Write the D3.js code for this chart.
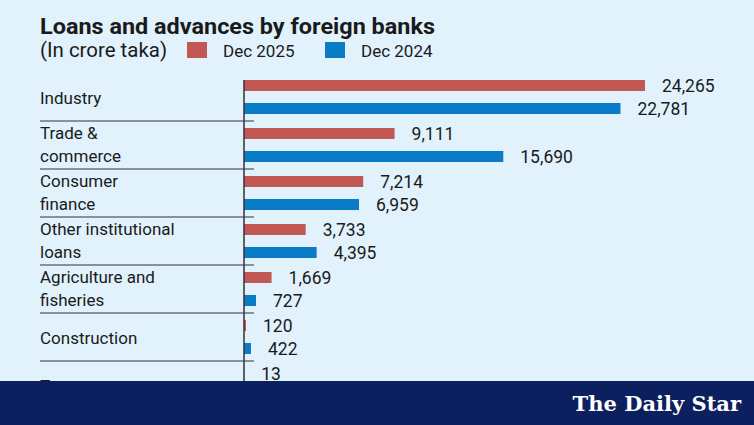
<!DOCTYPE html>
<html>
<head>
<meta charset="utf-8">
<script src="https://cdn.jsdelivr.net/npm/d3@7"></script>
<style>
  body { margin: 0; background: #e1f2fc; }
  svg { display: block; }
  text { font-family: Roboto, "Noto Sans", sans-serif; fill: #1a1a1a; }
</style>
</head>
<body>
<div id="chart"></div>
<script>
// chart data
let categories = [
    ['Industry'],
    ['Trade &', 'commerce'],
    ['Consumer', 'finance'],
    ['Other institutional', 'loans'],
    ['Agriculture and', 'fisheries'],
    ['Construction'],
    ['Transport']
];
let dec2025 = [24265, 9111, 7214, 3733, 1669, 120, 13];
let dec2024 = [22781, 15690, 6959, 4395, 727, 422, null];
let seriesNames = ['Dec 2025', 'Dec 2024'];
let seriesColors = ['#c25853', '#0a7bc5'];

let svgWidth = 754;
let svgHeight = 425;

let svg = d3.select('#chart')
            .append('svg')
            .attr('width', svgWidth)
            .attr('height', svgHeight);

svg.append('rect')
   .attr('width', svgWidth)
   .attr('height', svgHeight)
   .attr('fill', '#e1f2fc');

// title and legend
svg.append('text')
   .attr('x', 40).attr('y', 34)
   .style('font-size', '22.5px')
   .style('font-weight', 700)
   .attr('textLength', 395)
   .attr('lengthAdjust', 'spacingAndGlyphs')
   .text('Loans and advances by foreign banks');

svg.append('text')
   .attr('x', 40).attr('y', 57)
   .style('font-size', '19.5px')
   .style('font-weight', 400)
   .attr('textLength', 127)
   .attr('lengthAdjust', 'spacingAndGlyphs')
   .text('(In crore taka)');

let legendX = [187, 325];
seriesNames.forEach((name, i) => {
    svg.append('rect')
       .attr('x', legendX[i]).attr('y', 42)
       .attr('width', 20).attr('height', 16)
       .attr('fill', seriesColors[i]);
    svg.append('text')
       .attr('x', legendX[i] + 36).attr('y', 57)
       .style('font-size', '17px')
       .text(name);
});

// scales
let rows = categories.map((c, i) => ({
    label: c,
    values: [dec2025[i], dec2024[i]]
}));

let x = d3.scaleLinear()
          .domain([0, d3.max(dec2025.concat(dec2024))])
          .range([244, 645]);

let y = d3.scaleBand()
          .domain(d3.range(rows.length))
          .range([73, 73 + 48 * rows.length]);

let ySeries = d3.scaleBand()
                .domain([0, 1])
                .range([7, 41])
                .paddingInner(12 / 23);

let groups = svg.selectAll('.group')
                .data(rows)
                .enter()
                .append('g')
                .attr('class', 'group')
                .attr('transform', (d, i) => `translate(0, ${y(i)})`);

// separator lines under each group
groups.append('line')
      .attr('x1', 40).attr('x2', 254)
      .attr('y1', y.bandwidth()).attr('y2', y.bandwidth())
      .attr('stroke', '#333')
      .attr('stroke-width', 1.2);

// category labels
groups.each(function(d) {
    let g = d3.select(this);
    let lines = d.label;
    let ys = lines.length === 1
        ? [y.bandwidth() / 2 + 1]
        : [ySeries(0) + ySeries.bandwidth() / 2, ySeries(1) + ySeries.bandwidth() / 2];
    lines.forEach((t, k) => {
        g.append('text')
         .attr('x', 40)
         .attr('y', ys[k])
         .attr('dy', '0.35em')
         .style('font-size', '17px')
         .text(t);
    });
});

// bars and value labels
groups.selectAll('rect')
      .data(d => d.values.map((v, k) => ({v, k})).filter(e => e.v != null))
      .enter()
      .append('rect')
      .attr('x', x(0))
      .attr('y', e => ySeries(e.k))
      .attr('width', e => x(e.v) - x(0))
      .attr('height', ySeries.bandwidth())
      .attr('fill', e => seriesColors[e.k]);

groups.selectAll('.val')
      .data(d => d.values.map((v, k) => ({v, k})).filter(e => e.v != null))
      .enter()
      .append('text')
      .attr('class', 'val')
      .attr('x', e => x(e.v) + 17)
      .attr('y', e => ySeries(e.k) + ySeries.bandwidth() / 2)
      .attr('dy', '0.35em')
      .style('font-size', '17.5px')
      .text(e => d3.format(',')(e.v));

// vertical axis line
svg.append('line')
   .attr('x1', 244).attr('x2', 244)
   .attr('y1', 80).attr('y2', svgHeight)
   .attr('stroke', '#333')
   .attr('stroke-width', 1.5);

// footer band
svg.append('rect')
   .attr('x', 0).attr('y', 381)
   .attr('width', svgWidth).attr('height', svgHeight - 381)
   .attr('fill', '#0c1f5e');

svg.append('text')
   .attr('x', 741).attr('y', 411)
   .attr('text-anchor', 'end')
   .style('font-family', '"DejaVu Serif", serif')
   .style('font-size', '21px')
   .style('font-weight', 700)
   .style('fill', '#ffffff')
   .text('The Daily Star');
</script>
</body>
</html>
